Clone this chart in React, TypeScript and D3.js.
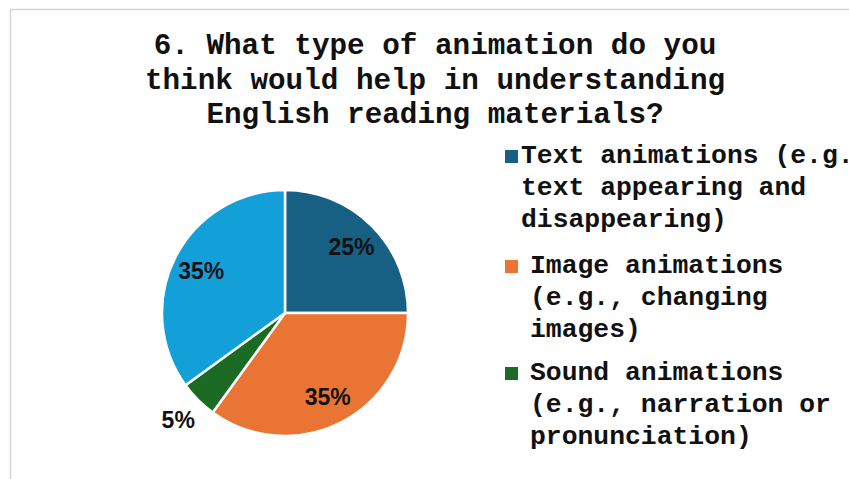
import React from "react";
import * as d3 from "d3";

const titleLines = [
  "6. What type of animation do you",
  "think would help in understanding",
  "English reading materials?",
];

const categories = [
  "Text animations (e.g., text appearing and disappearing)",
  "Image animations (e.g., changing images)",
  "Sound animations (e.g., narration or pronunciation)",
  "",
];
const values = [25, 35, 5, 35];
const colors = ["#185f84", "#ea7433", "#1c6b24", "#139fd7"];
const outsideLabel = [false, false, true, false];

const legendLines = [
  ["Text animations (e.g.,", "text appearing and", "disappearing)"],
  ["Image animations", "(e.g., changing", "images)"],
  ["Sound animations", "(e.g., narration or", "pronunciation)"],
];

export default function App() {
  const W = 849;
  const H = 479;
  const cx = 285;
  const cy = 313;
  const R = 123;

  const pie = d3.pie<number>().sort(null).value((d) => d);
  const arcs = pie(values);
  const arc = d3.arc<d3.PieArcDatum<number>>().innerRadius(0).outerRadius(R);
  const inArc = d3.arc<d3.PieArcDatum<number>>().innerRadius(94).outerRadius(94);
  const outArc = d3.arc<d3.PieArcDatum<number>>().innerRadius(151).outerRadius(151);
  const total = d3.sum(values);
  const fmt = (v: number) => `${Math.round((v / total) * 100)}%`;

  const mono = "'Liberation Mono', 'DejaVu Sans Mono', monospace";
  const sans = "'Liberation Sans', Arial, sans-serif";

  const legendTop = [163, 273, 380];
  const legendTextX = [521, 530, 530];
  const lineH = 32;

  return (
    <svg
      width={W}
      height={H}
      style={{ position: "absolute", left: 0, top: 0, background: "#fff" }}
    >
      <rect x={0} y={0} width={W} height={H} fill="#fff" />
      <line x1={10.5} y1={9.5} x2={W} y2={9.5} stroke="#d6d6d6" strokeWidth={1.5} />
      <line x1={10.5} y1={9.5} x2={10.5} y2={H} stroke="#d6d6d6" strokeWidth={1.5} />

      {titleLines.map((t, i) => (
        <text
          key={i}
          x={435}
          y={54 + i * 34.5}
          textAnchor="middle"
          fontFamily={mono}
          fontWeight="bold"
          fontSize={29.3}
          fill="#111"
        >
          {t}
        </text>
      ))}

      <g transform={`translate(${cx},${cy})`}>
        {arcs.map((a, i) => (
          <path
            key={i}
            d={arc(a) || ""}
            fill={colors[i]}
            stroke="#fff"
            strokeWidth={2.5}
            strokeLinejoin="round"
          />
        ))}
        {arcs.map((a, i) => {
          const [lx, ly] = (outsideLabel[i] ? outArc : inArc).centroid(a);
          return (
            <text
              key={i}
              x={lx}
              y={ly}
              dy="0.36em"
              textAnchor="middle"
              fontFamily={sans}
              fontWeight="bold"
              fontSize={23}
              fill="#111"
            >
              {fmt(values[i])}
            </text>
          );
        })}
      </g>

      {legendLines.map((lines, i) => (
        <g key={i}>
          <rect
            x={505}
            y={legendTop[i] - 13}
            width={13}
            height={13}
            fill={colors[i]}
          />
          {lines.map((ln, j) => (
            <text
              key={j}
              x={legendTextX[i]}
              y={legendTop[i] + j * lineH}
              fontFamily={mono}
              fontWeight="bold"
              fontSize={26.4}
              fill="#111"
            >
              {ln}
            </text>
          ))}
        </g>
      ))}
    </svg>
  );
}
